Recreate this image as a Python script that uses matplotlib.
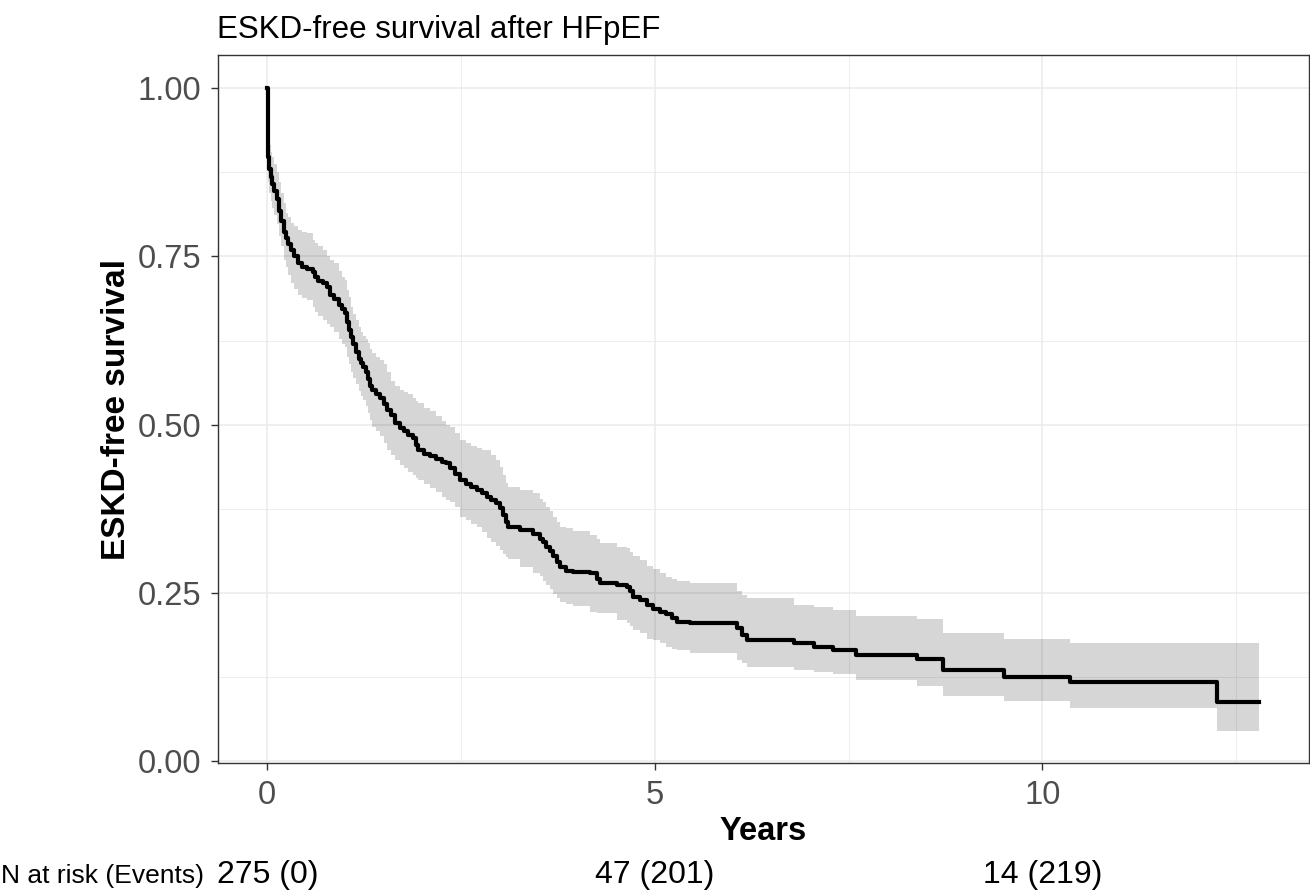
import matplotlib
matplotlib.use("Agg")
import matplotlib.pyplot as plt
from matplotlib.ticker import MultipleLocator
from matplotlib.transforms import blended_transform_factory

plt.rcParams['font.family'] = ['Liberation Sans', 'DejaVu Sans']

# Kaplan-Meier estimate (time in years)
t = [0.000, 0.003, 0.010, 0.025, 0.045, 0.065, 0.09, 0.12, 0.15, 0.18, 0.21, 0.24,
     0.27, 0.31, 0.35, 0.40, 0.45, 0.51, 0.59, 0.62, 0.66, 0.72, 0.77, 0.81,
     0.86, 0.92, 0.97, 1.00, 1.03, 1.05, 1.08, 1.11, 1.14, 1.18, 1.21, 1.24,
     1.27, 1.30, 1.33, 1.35, 1.40, 1.45, 1.50, 1.55, 1.60, 1.65, 1.71, 1.76,
     1.82, 1.88, 1.92, 1.95, 2.02, 2.10, 2.18, 2.26, 2.31, 2.36, 2.42, 2.49,
     2.56, 2.63, 2.70, 2.77, 2.83, 2.88, 2.95, 3.00, 3.04, 3.08, 3.11, 3.26,
     3.43, 3.52, 3.56, 3.60, 3.65, 3.69, 3.74, 3.78, 3.86, 3.95, 4.16, 4.25,
     4.29, 4.51, 4.64, 4.68, 4.72, 4.81, 4.90, 4.98, 5.07, 5.15, 5.22, 5.28,
     5.45, 6.06, 6.12, 6.19, 6.79, 7.05, 7.30, 7.60, 8.38, 8.72, 9.50, 10.36,
     12.25, 12.79]
surv = [1.000, 0.943, 0.898, 0.880, 0.868, 0.858, 0.848, 0.835, 0.818, 0.802, 0.787, 0.777,
        0.768, 0.760, 0.750, 0.740, 0.734, 0.731, 0.727, 0.720, 0.714, 0.710, 0.705, 0.693,
        0.687, 0.678, 0.672, 0.666, 0.652, 0.641, 0.630, 0.620, 0.608, 0.598, 0.592, 0.586,
        0.578, 0.568, 0.558, 0.552, 0.545, 0.539, 0.530, 0.522, 0.515, 0.502, 0.495, 0.490,
        0.485, 0.480, 0.470, 0.462, 0.457, 0.453, 0.449, 0.445, 0.443, 0.435, 0.427, 0.418,
        0.412, 0.407, 0.403, 0.398, 0.393, 0.388, 0.383, 0.376, 0.365, 0.355, 0.348, 0.343,
        0.338, 0.330, 0.325, 0.318, 0.312, 0.305, 0.296, 0.289, 0.283, 0.281, 0.279, 0.270,
        0.264, 0.262, 0.259, 0.252, 0.244, 0.240, 0.232, 0.226, 0.222, 0.219, 0.212, 0.207,
        0.205, 0.198, 0.188, 0.180, 0.175, 0.170, 0.165, 0.158, 0.152, 0.136, 0.125, 0.118,
        0.087, 0.087]
lower = [1.000, 0.915, 0.860, 0.845, 0.832, 0.822, 0.812, 0.798, 0.780, 0.765, 0.745, 0.735,
         0.722, 0.710, 0.702, 0.692, 0.688, 0.685, 0.675, 0.668, 0.662, 0.655, 0.650, 0.645,
         0.638, 0.628, 0.620, 0.616, 0.600, 0.590, 0.578, 0.570, 0.560, 0.550, 0.543, 0.537,
         0.527, 0.517, 0.507, 0.497, 0.490, 0.483, 0.472, 0.462, 0.455, 0.447, 0.440, 0.435,
         0.430, 0.425, 0.420, 0.418, 0.412, 0.406, 0.400, 0.392, 0.388, 0.385, 0.378, 0.363,
         0.358, 0.352, 0.348, 0.340, 0.332, 0.326, 0.320, 0.314, 0.308, 0.303, 0.300, 0.289,
         0.279, 0.275, 0.268, 0.262, 0.255, 0.249, 0.242, 0.237, 0.234, 0.230, 0.222, 0.2195,
         0.2195, 0.2096, 0.205, 0.200, 0.195, 0.190, 0.182, 0.180, 0.175, 0.170, 0.167, 0.165,
         0.160, 0.150, 0.145, 0.140, 0.136, 0.132, 0.130, 0.120, 0.1115, 0.0966, 0.089, 0.079,
         0.0446, 0.0446]
upper = [1.000, 0.970, 0.930, 0.915, 0.905, 0.898, 0.888, 0.875, 0.860, 0.845, 0.830, 0.815,
         0.808, 0.800, 0.795, 0.790, 0.787, 0.785, 0.775, 0.770, 0.765, 0.760, 0.750, 0.745,
         0.740, 0.728, 0.720, 0.715, 0.700, 0.690, 0.675, 0.665, 0.655, 0.645, 0.638, 0.632,
         0.627, 0.622, 0.612, 0.606, 0.600, 0.596, 0.590, 0.578, 0.565, 0.558, 0.552, 0.548,
         0.545, 0.540, 0.535, 0.532, 0.525, 0.520, 0.513, 0.505, 0.500, 0.497, 0.488, 0.477,
         0.472, 0.468, 0.465, 0.463, 0.462, 0.455, 0.447, 0.437, 0.425, 0.413, 0.408, 0.403,
         0.398, 0.390, 0.385, 0.378, 0.372, 0.362, 0.355, 0.348, 0.346, 0.342, 0.336, 0.330,
         0.324, 0.318, 0.316, 0.310, 0.305, 0.299, 0.290, 0.286, 0.280, 0.274, 0.270, 0.268,
         0.264, 0.252, 0.247, 0.242, 0.232, 0.229, 0.224, 0.2155, 0.211, 0.191, 0.182, 0.176,
         0.176, 0.176]

# risk table
risk_times = [0, 5, 10]
n_risk = [275, 47, 14]
n_events = [0, 201, 219]

W, H = 1310, 896
fig = plt.figure(figsize=(W / 100, H / 100), dpi=100)
ax = fig.add_axes([218 / W, (H - 763.3) / H, (1309 - 218) / W, 708.3 / H])

ax.fill_between(t, lower, upper, step='post', color='black', alpha=0.16, lw=0, zorder=2)
ax.step(t, surv, where='post', color='black', lw=3.0, zorder=3)

ax.set_xlim(-0.636, 13.44)
ax.set_ylim(-0.0034, 1.0495)
ax.xaxis.set_major_locator(MultipleLocator(5))
ax.xaxis.set_minor_locator(MultipleLocator(2.5))
ax.yaxis.set_major_locator(MultipleLocator(0.25))
ax.yaxis.set_minor_locator(MultipleLocator(0.125))
ax.yaxis.set_major_formatter(lambda v, p: f"{v:.2f}")

ax.grid(which='major', color='#EBEBEB', lw=1.1)
ax.grid(which='minor', color='#EBEBEB', lw=0.6)
ax.set_axisbelow(True)

for s in ax.spines.values():
    s.set_color('#333333')
    s.set_linewidth(1.0)

ax.tick_params(which='major', length=5, width=1.0, color='#333333',
               labelsize=23.5, labelcolor='#4D4D4D', pad=7)
ax.tick_params(which='minor', length=0)

ax.text(-0.093, 0.5, "ESKD-free survival", transform=ax.transAxes, rotation=90,
        ha='center', va='center', fontsize=24, fontweight='bold')
ax.text(0.5, -0.074, "Years", transform=ax.transAxes, ha='center', va='top',
        fontsize=23.5, fontweight='bold')

fig.text(217 / W, (H - 30) / H, "ESKD-free survival after HFpEF", ha='left',
         va='center', fontsize=22.5)

trans = blended_transform_factory(ax.transData, fig.transFigure)
for x, n, e in zip(risk_times, n_risk, n_events):
    ax.text(x, (H - 875) / H, f"{n} ({e})", transform=trans, ha='center',
            va='center', fontsize=23, clip_on=False)
fig.text(204 / W, (H - 876) / H, "N at risk (Events)", ha='right', va='center',
         fontsize=19)

fig.savefig("out.png", dpi=100)
